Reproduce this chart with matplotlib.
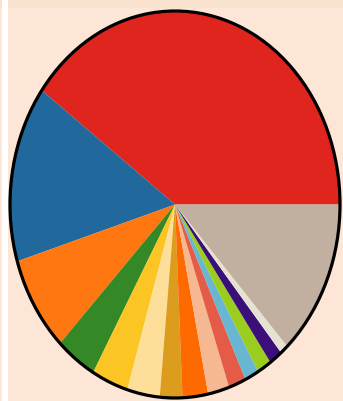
import matplotlib
matplotlib.use("Agg")
import matplotlib.pyplot as plt
from matplotlib.patches import Circle, Rectangle

# Slice shares (percent), drawn counter-clockwise from 3 o'clock
labels = ["A", "B", "C", "D", "E", "F", "G", "H", "I", "J", "K", "L", "M", "N", "O"]
values = [40.0, 14.8, 8.0, 4.0, 3.6, 3.2, 2.2, 2.5, 2.1, 1.7, 1.4, 1.4, 1.3, 0.8, 13.1]
colors = ["#e0251e", "#21689c", "#ff7710", "#358826", "#fbc523", "#fddf9a",
          "#dc9c1e", "#ff6a00", "#f5b890", "#e45c48", "#69b6d2", "#9acd1e",
          "#3b0f7a", "#e6e2d2", "#c1b0a0"]

W, H = 343, 401
bg = "#fde6d5"
fig = plt.figure(figsize=(W / 100, H / 100), dpi=100, facecolor=bg)

# thin frame strips along the top and left of the canvas
fig.patches.append(Rectangle((0, (H - 8) / H), 1, 8 / H, transform=fig.transFigure,
                             facecolor="#f8e1cd", edgecolor="none", zorder=0))
fig.patches.append(Rectangle((2 / W, 0), 6 / W, 1, transform=fig.transFigure,
                             facecolor="#ffffff", edgecolor="none", zorder=0))

left, right, top, bottom = 10, 340, 11, 398
ax = fig.add_axes([left / W, (H - bottom) / H, (right - left) / W, (bottom - top) / H])
ax.set_facecolor("none")
ax.pie(values, colors=colors, startangle=0, counterclock=True, radius=1,
       wedgeprops=dict(linewidth=0, antialiased=True))
ax.add_patch(Circle((0, 0), 1, facecolor="none", edgecolor="black", linewidth=2.3,
                    zorder=5, clip_on=False))
ax.set_aspect("auto")
ax.set_xlim(-1, 1)
ax.set_ylim(-1, 1)
ax.axis("off")

fig.savefig("out.png", dpi=100, facecolor=bg)
